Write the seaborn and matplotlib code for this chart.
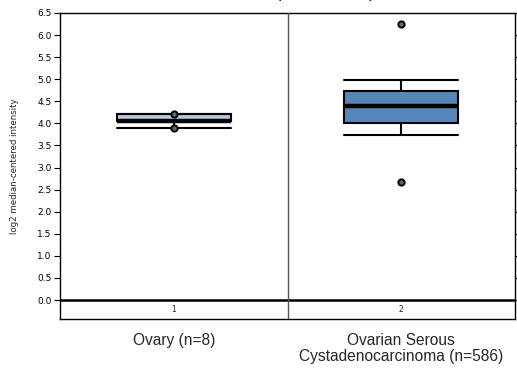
import numpy as np
import pandas as pd
import matplotlib
matplotlib.use("Agg")
import matplotlib.pyplot as plt
import seaborn as sns

# ---- data ----
groups = ["Ovary (n=8)", "Ovarian Serous\nCystadenocarcinoma (n=586)"]
group_ids = ["1", "2"]
# box summary per group: [lower whisker, Q1, median, Q3, upper whisker]
box_ovary = [3.90, 4.05, 4.06, 4.21, 4.21]
box_serous = [3.73, 4.02, 4.39, 4.74, 4.99]
# min / max dots
min_vals = [3.90, 2.67]
max_vals = [4.22, 6.24]
box_colors = ["#b7c9dc", "#5787b8"]
yticks = [0.0, 0.5, 1.0, 1.5, 2.0, 2.5, 3.0, 3.5, 4.0, 4.5, 5.0, 5.5, 6.0, 6.5]

sns.set_style("white")
plt.rcParams["font.family"] = ["DejaVu Sans"]

box_df = pd.DataFrame({
    "group": [groups[0]] * len(box_ovary) + [groups[1]] * len(box_serous),
    "value": box_ovary + box_serous,
})
dot_df = pd.DataFrame({
    "group": groups + groups,
    "value": min_vals + max_vals,
})

fig = plt.figure(figsize=(5.17, 3.70), dpi=100)
ax = fig.add_axes([60 / 517, 1 - 319 / 370, 455 / 517, 306 / 370])

sns.boxplot(data=box_df, x="group", y="value", hue="group", palette=box_colors,
            order=groups, hue_order=groups, width=0.5, whis=np.inf,
            showfliers=False, linecolor="black", linewidth=1.5, saturation=1,
            medianprops=dict(linewidth=3.2, color="black"),
            capwidths=0.5, legend=False, ax=ax)
sns.stripplot(data=dot_df, x="group", y="value", order=groups, jitter=False,
              color="#666666", edgecolor="black", linewidth=1.4, size=4.5,
              ax=ax, zorder=5)

ax.set_xlim(-0.5, 1.5)
ax.set_ylim(-0.43, 6.5)
ax.axhline(0, color="black", lw=1.8, zorder=3)
ax.axvline(0.5, color="#555555", lw=1.0, zorder=3)

ax.set_yticks(yticks)
ax.set_yticklabels([f"{v:.1f}" for v in yticks], fontsize=6.5)
ax.tick_params(axis="y", direction="out", length=4, width=0.8, left=True,
               right=True, pad=2, colors="black")
ax.set_xticks([0, 1])
ax.set_xticklabels(groups, fontsize=11.2, family="Liberation Sans",
                   linespacing=1.1)
ax.tick_params(axis="x", length=0, pad=10)
ax.set_xlabel("")
ax.set_ylabel("")

for i, gid in enumerate(group_ids):
    ax.text(i, -0.215, gid, ha="center", va="center", fontsize=5.5)

for s in ax.spines.values():
    s.set_color("black")
    s.set_linewidth(1.0)

fig.text(15 / 517, 0.55, "log2 median-centered intensity", rotation=90,
         ha="center", va="center", fontsize=6.2)
fig.text(325 / 517, 1.0 + 0.5 / 370, "(TCGA Ovarian)", ha="center",
         va="baseline", fontsize=8, fontweight="bold")

fig.savefig("out.png", dpi=100)
